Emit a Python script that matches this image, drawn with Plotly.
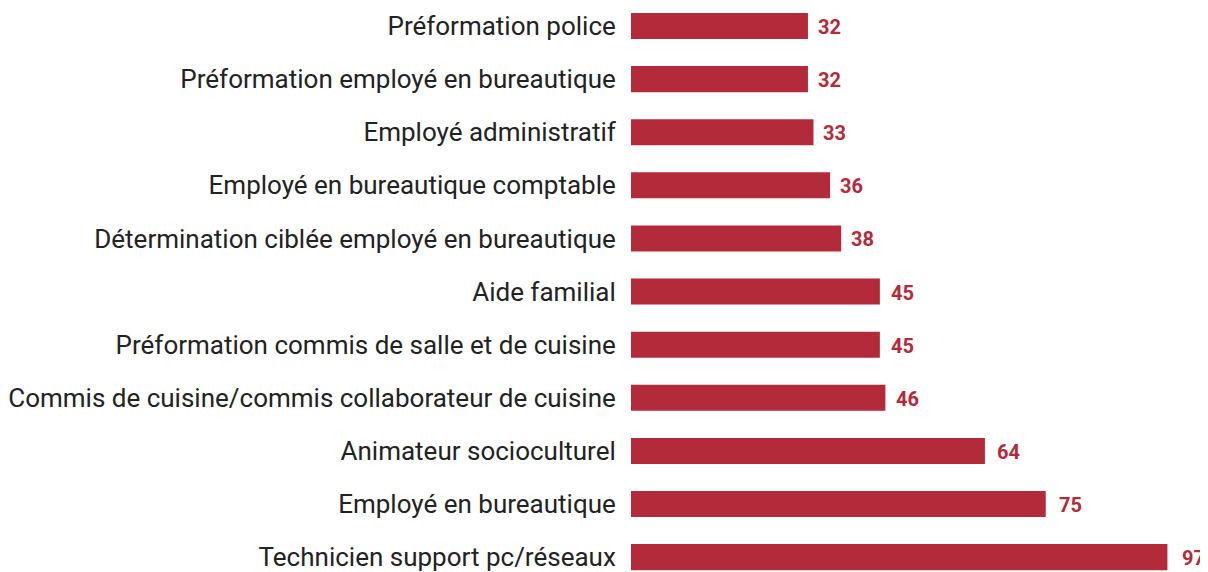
import plotly.graph_objects as go

categories = [
    "Préformation police",
    "Préformation employé en bureautique",
    "Employé administratif",
    "Employé en bureautique comptable",
    "Détermination ciblée employé en bureautique",
    "Aide familial",
    "Préformation commis de salle et de cuisine",
    "Commis de cuisine/commis collaborateur de cuisine",
    "Animateur socioculturel",
    "Employé en bureautique",
    "Technicien support pc/réseaux",
]
values = [32, 32, 33, 36, 38, 45, 45, 46, 64, 75, 97]

RED = "#B32A3A"

fig = go.Figure(go.Bar(
    x=values, y=categories, orientation="h",
    marker=dict(color=RED, line=dict(width=0)),
    hoverinfo="skip",
))

for c, v in zip(categories, values):
    fig.add_annotation(x=v * 1.015, y=c, text=f"<b>{v}</b>", showarrow=False,
                       xanchor="left", yanchor="middle", xshift=5, yshift=-1,
                       font=dict(family="Roboto", size=20, color=RED))

fig.update_layout(
    width=1200, height=564,
    margin=dict(l=621, r=24, t=0, b=0),
    paper_bgcolor="white", plot_bgcolor="white",
    bargap=0.51,
    showlegend=False,
    font=dict(family="Roboto", color="#222222"),
)
fig.update_xaxes(range=[0, 100], visible=False, fixedrange=True)
fig.update_yaxes(
    categoryorder="array", categoryarray=categories,
    range=[10.28, -0.339], autorange=False,
    showgrid=False, zeroline=False, showline=False,
    ticks="outside", ticklen=9, tickcolor="rgba(0,0,0,0)",
    tickfont=dict(family="Roboto", size=26, color="#222222"),
    fixedrange=True,
)

fig.write_html("out.html")
